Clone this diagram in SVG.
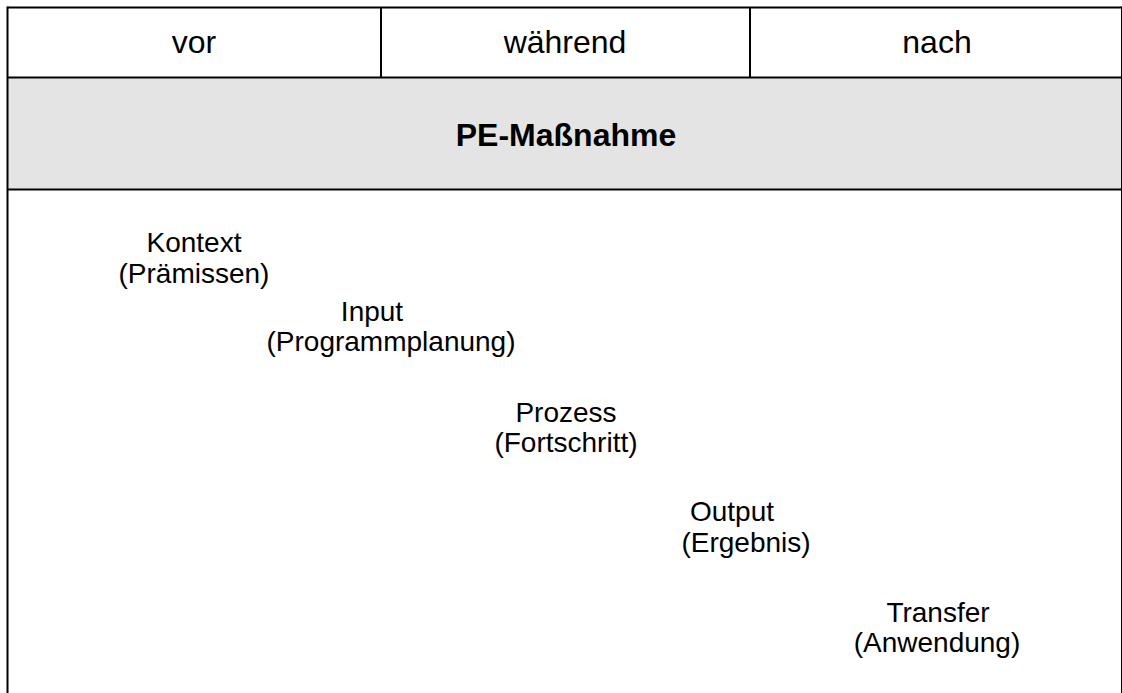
<svg xmlns="http://www.w3.org/2000/svg" width="1122" height="693" viewBox="0 0 1122 693">
<style>
.ln{stroke:#000;stroke-width:2;fill:none}
.h{font-family:"Liberation Sans",Arial,sans-serif;font-size:32px;fill:#000;text-anchor:middle}
.t{font-family:"Liberation Sans",Arial,sans-serif;font-size:28px;fill:#000;text-anchor:middle}
.b{font-weight:bold}
</style>
<rect x="0" y="0" width="1122" height="693" fill="#fff"/>
<rect x="7.5" y="77.5" width="1116" height="112" fill="#e4e4e4"/>
<g id="grid">
<line class="ln" x1="7.5" y1="7.5" x2="1124" y2="7.5"/>
<line class="ln" x1="7.5" y1="77.5" x2="1124" y2="77.5"/>
<line class="ln" x1="7.5" y1="189.5" x2="1124" y2="189.5"/>
<line class="ln" x1="7.5" y1="6.5" x2="7.5" y2="693"/>
<line class="ln" x1="1122" y1="6.5" x2="1122" y2="693"/>
<line class="ln" x1="381" y1="7.5" x2="381" y2="77.5"/>
<line class="ln" x1="750" y1="7.5" x2="750" y2="77.5"/>
</g>
<g id="header">
<text class="h" x="194" y="53">vor</text>
<text class="h" x="565" y="53">während</text>
<text class="h" x="937" y="53">nach</text>
<text class="h b" x="566" y="146">PE-Maßnahme</text>
</g>
<g id="kontext"><text class="t" x="194" y="252">Kontext</text><text class="t" x="194" y="283">(Prämissen)</text></g>
<g id="input"><text class="t" x="372" y="321">Input</text><text class="t" x="391" y="351">(Programmplanung)</text></g>
<g id="prozess"><text class="t" x="566" y="422">Prozess</text><text class="t" x="566" y="452">(Fortschritt)</text></g>
<g id="output"><text class="t" x="732" y="521">Output</text><text class="t" x="746" y="552">(Ergebnis)</text></g>
<g id="transfer"><text class="t" x="938" y="622">Transfer</text><text class="t" x="937" y="652">(Anwendung)</text></g>
<g id="connectors"></g>
</svg>
